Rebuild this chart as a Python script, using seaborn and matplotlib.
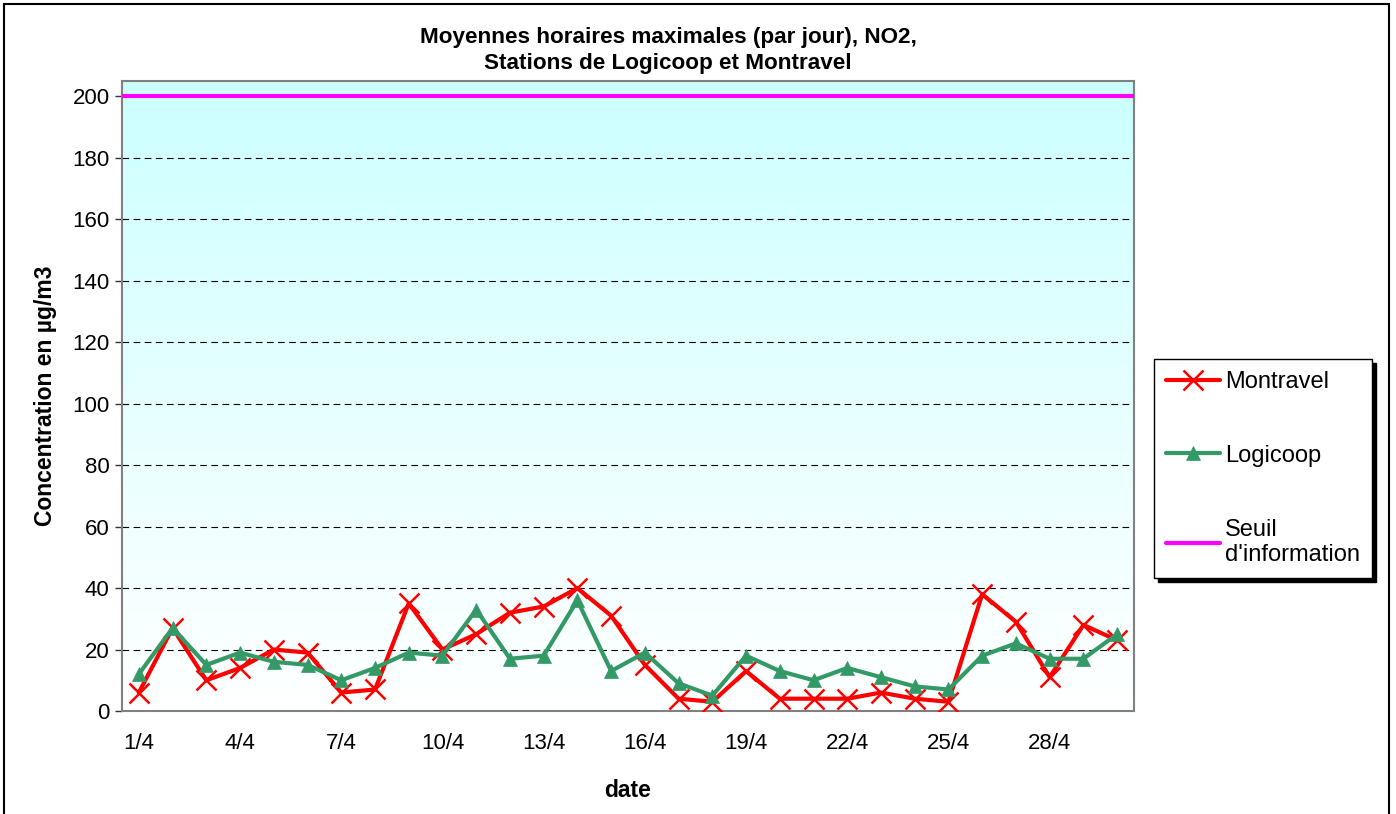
import numpy as np
import pandas as pd
import matplotlib.pyplot as plt
import matplotlib.patches as patches
import seaborn as sns

# data ----------------------------------------------
jours = [f"{d}/4" for d in range(1, 31)]
montravel = [6, 27, 10, 14, 20, 19, 6, 7, 35, 20,
             25, 32, 34, 40, 31, 15, 4, 3, 13, 4,
             4, 4, 6, 4, 3, 38, 29, 11, 28, 23]
logicoop = [12, 27, 15, 19, 16, 15, 10, 14, 19, 18,
            33, 17, 18, 36, 13, 19, 9, 5, 18, 13,
            10, 14, 11, 8, 7, 18, 22, 17, 17, 25]
seuil = 200

df = pd.DataFrame({"jour": jours, "pos": range(len(jours)),
                   "Montravel": montravel, "Logicoop": logicoop})

sns.set_style("white")
plt.rcParams['font.family'] = ['Liberation Sans', 'DejaVu Sans']
plt.rcParams['text.color'] = 'black'
plt.rcParams['axes.labelcolor'] = 'black'
plt.rcParams['xtick.color'] = 'black'
plt.rcParams['ytick.color'] = 'black'

W, H = 1396, 814
fig = plt.figure(figsize=(W / 100, H / 100), dpi=100)
ax = fig.add_axes([122 / W, 1 - 711 / H, (1134 - 122) / W, (711 - 81) / H])

# background gradient (cyan at top -> white at bottom)
grad = np.linspace(0, 1, 256).reshape(-1, 1)
cmap = sns.blend_palette(["#ccffff", "#ffffff"], as_cmap=True)
ax.imshow(grad, aspect="auto", cmap=cmap, extent=[0, 1, 0, 1],
          transform=ax.transAxes, zorder=-1)

sns.lineplot(data=df, x="pos", y="Montravel", ax=ax, color="#ff0000",
             linewidth=3, marker="x", markersize=14, markeredgewidth=1.8,
             markeredgecolor="#ff0000", label="Montravel", zorder=3)
sns.lineplot(data=df, x="pos", y="Logicoop", ax=ax, color="#339966",
             linewidth=3, marker="^", markersize=10, markeredgewidth=0.5,
             markeredgecolor="#339966", label="Logicoop", zorder=4)
ax.axhline(seuil, color="#ff00ff", linewidth=3, label="Seuil\nd'information", zorder=5)

# axes
ax.set_xlim(-0.5, len(jours) - 0.5)
ax.set_ylim(0, 205)
ax.set_yticks(range(0, 201, 20))
ax.set_xticks(range(0, len(jours), 3))
ax.set_xticklabels(jours[::3])
ax.set_xticks(np.arange(-0.5, len(jours), 3), minor=True)
ax.tick_params(axis="x", which="major", length=0, pad=16, labelsize=16)
ax.tick_params(axis="x", which="minor", length=5, width=1, color="#333333", direction="out")
ax.tick_params(axis="y", length=5, width=1, color="#333333", direction="out", pad=4, labelsize=16,
               left=True)
ax.grid(axis="y", color="black", linestyle=(0, (6, 4)), linewidth=0.8)
ax.set_axisbelow(True)
for s in ax.spines.values():
    s.set_color("#808080")
    s.set_linewidth(1.5)

ax.set_title("Moyennes horaires maximales (par jour), NO2,\nStations de Logicoop et Montravel",
             fontsize=16.2, fontweight="bold", pad=9, linespacing=1.25,
             x=(668 - 122) / (1134 - 122))
ax.set_ylabel("Concentration en µg/m3", fontsize=16.5, fontweight="bold", labelpad=11)
ax.set_xlabel("date", fontsize=16.5, fontweight="bold", labelpad=18)

leg = ax.legend(loc="upper left", bbox_to_anchor=(1154 / W, 1 - 359 / H),
                bbox_transform=fig.transFigure, borderaxespad=0, fontsize=17,
                frameon=True, fancybox=False,
                shadow={"color": "black", "alpha": 1, "ox": 3, "oy": -3},
                edgecolor="black",
                labelspacing=2.2, handlelength=2.3, handletextpad=0.2,
                borderpad=0.5)
leg.get_frame().set_linewidth(1)

# outer chart border
fig.patches.append(patches.Rectangle((4 / W, -0.01), (1389 - 4) / W, 1 - 4 / H + 0.01,
                                     transform=fig.transFigure, fill=False,
                                     edgecolor="black", linewidth=1.5))

fig.savefig("out.png", dpi=100)
